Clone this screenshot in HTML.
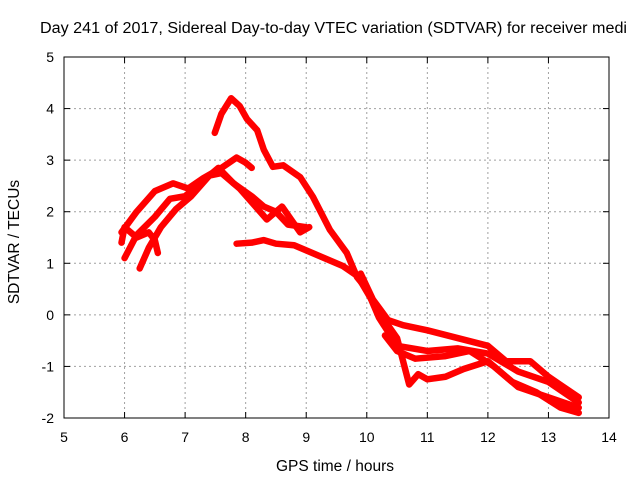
<!DOCTYPE html>
<html><head><meta charset="utf-8"><style>
body{margin:0;background:#fff}
svg{display:block;font-family:"Liberation Sans",sans-serif}
</style></head><body>
<svg id="chart" width="640" height="480">
<text x="40" y="33" font-size="15.5" textLength="587" lengthAdjust="spacingAndGlyphs" fill="#000">Day 241 of 2017, Sidereal Day-to-day VTEC variation (SDTVAR) for receiver medi</text>
<text x="335" y="471" font-size="15.5" text-anchor="middle">GPS time / hours</text>
<text x="19" y="242" font-size="15.5" text-anchor="middle" transform="rotate(-90 19 242)">SDTVAR / TECUs</text>
<g id="grid"></g><g id="series"></g><g id="axes"></g>
</svg>
<script>
const xTicks=[5,6,7,8,9,10,11,12,13,14];
const yTicks=[-2,-1,0,1,2,3,4,5];
const trackA=[[7.49,3.53],[7.6,3.9],[7.76,4.2],[7.9,4.05],[8.02,3.8],[8.19,3.58],[8.3,3.2],[8.45,2.87],[8.62,2.9],[8.9,2.67],[9.11,2.29],[9.39,1.65],[9.67,1.2],[9.84,0.73],[10.0,0.5],[10.2,-0.05],[10.5,-0.6],[11.0,-0.7],[11.5,-0.65],[12.0,-0.75],[12.5,-1.1],[13.0,-1.3],[13.5,-1.7]];
const trackB=[[5.95,1.6],[6.2,2.0],[6.5,2.4],[6.8,2.55],[7.05,2.45],[7.3,2.65],[7.6,2.85],[7.85,3.05],[8.0,2.95],[8.1,2.85]];
const trackC=[[6.0,1.1],[6.2,1.55],[6.5,1.9],[6.75,2.25],[7.0,2.3],[7.3,2.6],[7.55,2.85],[7.8,2.55],[8.1,2.3],[8.3,2.1],[8.5,2.0],[8.7,1.75],[9.0,1.7]];
const trackD=[[6.25,0.9],[6.4,1.3],[6.6,1.7],[6.85,2.05],[7.1,2.3],[7.4,2.7],[7.6,2.75],[7.9,2.45],[8.2,2.05],[8.35,1.85],[8.6,2.1],[8.75,1.85],[8.9,1.6],[9.05,1.7]];
const trackE=[[5.95,1.4],[6.0,1.7],[6.2,1.5],[6.4,1.6],[6.5,1.45],[6.55,1.2]];
const trackF=[[7.85,1.38],[8.1,1.4],[8.3,1.45],[8.5,1.38],[8.8,1.35],[9.0,1.25],[9.3,1.1],[9.6,0.95],[9.85,0.75],[10.0,0.45],[10.2,0.05],[10.5,-0.45],[10.7,-1.35],[10.85,-1.15],[11.0,-1.25],[11.3,-1.2],[11.6,-1.05],[12.0,-0.9],[12.4,-1.3],[12.8,-1.5],[13.2,-1.8],[13.5,-1.9]];
const trackG=[[9.9,0.8],[10.1,0.3],[10.35,-0.1],[10.6,-0.2],[11.0,-0.3],[11.5,-0.45],[12.0,-0.6],[12.3,-0.9],[12.7,-0.9],[13.0,-1.2],[13.5,-1.6]];
const trackH=[[10.3,-0.4],[10.5,-0.7],[10.8,-0.85],[11.3,-0.8],[11.7,-0.7],[12.1,-1.0],[12.5,-1.4],[13.0,-1.6],[13.5,-1.8]];
const tracks=[trackA,trackB,trackC,trackD,trackE,trackF,trackG,trackH];
const X0=64,X1=609,Y0=418,Y1=57;
const sx=v=>X0+(v-5)/(14-5)*(X1-X0);
const sy=v=>Y0-(v+2)/(5+2)*(Y0-Y1);
const NS="http://www.w3.org/2000/svg";
function mk(t,a,p){const e=document.createElementNS(NS,t);for(const k in a)e.setAttribute(k,a[k]);p.appendChild(e);return e;}
const grid=document.getElementById('grid'),axes=document.getElementById('axes'),ser=document.getElementById('series');
xTicks.forEach(t=>{const x=sx(t);
 if(t>5&&t<14){const l=mk('line',{x1:x,x2:x,y1:Y1,y2:Y0,stroke:'#a0a0a0','stroke-dasharray':'2,3'},grid);}
 mk('line',{x1:x,x2:x,y1:Y0,y2:Y0-6,stroke:'#000'},axes);mk('line',{x1:x,x2:x,y1:Y1,y2:Y1+6,stroke:'#000'},axes);
 const tx=mk('text',{x:x,y:Y0+24,'font-size':14,'text-anchor':'middle'},axes);tx.textContent=t;
 });
yTicks.forEach(t=>{const y=sy(t);
 if(t>-2&&t<5){const l=mk('line',{x1:X0,x2:X1,y1:y,y2:y,stroke:'#a0a0a0','stroke-dasharray':'2,3'},grid);}
 mk('line',{x1:X0,x2:X0+6,y1:y,y2:y,stroke:'#000'},axes);mk('line',{x1:X1,x2:X1-6,y1:y,y2:y,stroke:'#000'},axes);
 const tx=mk('text',{x:X0-10,y:y+5,'font-size':14,'text-anchor':'end'},axes);tx.textContent=t;
 });
const fr=mk('rect',{x:X0,y:Y1,width:X1-X0,height:Y0-Y1,fill:'none',stroke:'#000'},axes);


tracks.forEach(tr=>{
 const p=mk('polyline',{points:tr.map(d=>sx(d[0])+','+sy(d[1])).join(' '),fill:'none',stroke:'#ff0000','stroke-width':6.5,'stroke-linejoin':'round','stroke-linecap':'round'},ser);
 
 
});
</script>
</body></html>
